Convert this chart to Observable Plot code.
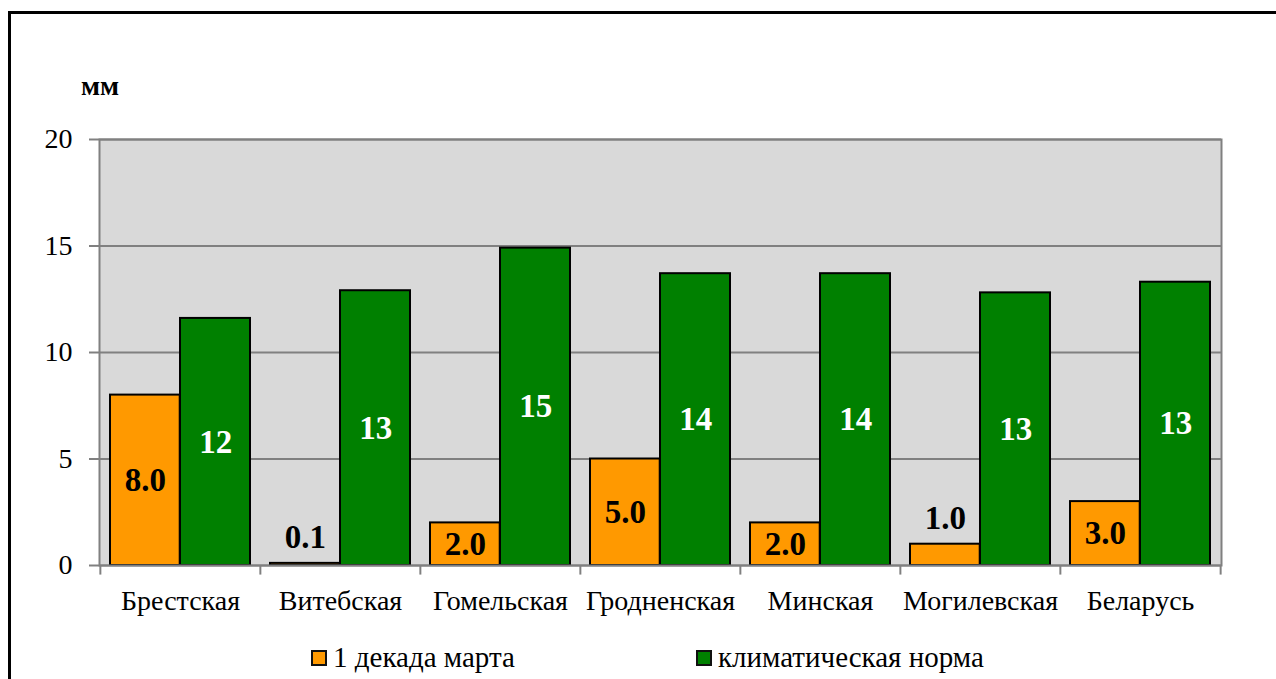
<!DOCTYPE html>
<html><head><meta charset="utf-8">
<script src="https://cdn.jsdelivr.net/npm/d3@7"></script>
<script src="https://cdn.jsdelivr.net/npm/@observablehq/plot@0.6"></script>
<style>
html,body{margin:0;padding:0;background:#fff;}
body{width:1276px;height:679px;overflow:hidden;position:relative;font-family:"Liberation Serif","Times New Roman",serif;color:#000;}
#frame{position:absolute;left:8px;top:11px;width:1300px;height:720px;border:3px solid #000;box-sizing:border-box;}
#chart{position:absolute;left:0;top:0;}
#unit{position:absolute;left:81px;top:72px;font-size:28px;line-height:28px;font-weight:bold;}
.leg{position:absolute;top:643px;font-size:29px;line-height:29px;display:flex;align-items:center;white-space:nowrap;}
.sw{width:12px;height:12px;border:2px solid #111;margin-right:6px;flex:none;}
</style></head>
<body>
<div id="frame"></div>
<div id="chart"></div>
<div id="unit">мм</div>
<div class="leg" id="leg1" style="left:311px"><span class="sw" style="background:#FF9900"></span><span id="t1"></span></div>
<div class="leg" id="leg2" style="left:696px"><span class="sw" style="background:#008000"></span><span id="t2"></span></div>
<script>
const regions = ["Брестская","Витебская","Гомельская","Гродненская","Минская","Могилевская","Беларусь"];
const march = [8.0, 0.1, 2.0, 5.0, 2.0, 1.0, 3.0];
const norm = [11.6, 12.9, 14.9, 13.7, 13.7, 12.8, 13.3];
const seriesNames = ["1 декада марта", "климатическая норма"];
const yTicks = [0, 5, 10, 15, 20];

document.getElementById("t1").textContent = seriesNames[0];
document.getElementById("t2").textContent = seriesNames[1];

const data = regions.map((r, i) => ({region: r, march: march[i], norm: norm[i]}));

const W = 1276, H = 679, ML = 99, MR = 55, MT = 139, MB = 114;
const bw = (W - ML - MR) / regions.length;
const fmt1 = d3.format(".1f"), fmt0 = d3.format(".0f");
const orange = "#FF9900", green = "#008000", grid = "#808080";
const FONT = "'Liberation Serif', 'Times New Roman', serif";

const chart = Plot.plot({
  width: W, height: H,
  marginLeft: ML, marginRight: MR, marginTop: MT, marginBottom: MB,
  x: {domain: regions, padding: 0, label: null},
  y: {domain: [0, 20], label: null},
  style: {fontFamily: FONT, color: "#000", background: "transparent", overflow: "visible"},
  marks: [
    Plot.frame({fill: "#d9d9d9", stroke: grid, strokeWidth: 2}),
    Plot.ruleY(yTicks.filter(d => d > 0), {y: d => d, stroke: grid, strokeWidth: 2}),
    Plot.barY(data, {x: "region", y: "march", fill: orange, stroke: "#000", strokeWidth: 2, insetLeft: 10, insetRight: bw - 80}),
    Plot.barY(data, {x: "region", y: "norm", fill: green, stroke: "#000", strokeWidth: 2, insetLeft: 80, insetRight: 10}),
    Plot.ruleY([0], {stroke: grid, strokeWidth: 2}),
    Plot.ruleX(regions, {x: d => d, dx: -bw / 2, y1: 0, y2: -0.45, stroke: grid, strokeWidth: 2}),
    Plot.ruleX(regions.slice(-1), {x: d => d, dx: bw / 2, y1: 0, y2: -0.45, stroke: grid, strokeWidth: 2}),
    Plot.axisY({ticks: yTicks, tickSize: 10, tickPadding: 17, stroke: grid, strokeWidth: 2, fontSize: 28, tickFormat: d => d}),
    Plot.axisX({tickSize: 0, tickPadding: 25, fontSize: 28}),
    Plot.text(data.filter(d => d.march >= 1.5), {x: "region", y: d => d.march / 2, text: d => fmt1(d.march), dx: -(bw / 2 - 45), fontSize: 33, fontWeight: "bold", fill: "#000"}),
    Plot.text(data.filter(d => d.march < 1.5), {x: "region", y: "march", text: d => fmt1(d.march), dx: -(bw / 2 - 45), dy: -26, fontSize: 33, fontWeight: "bold", fill: "#000"}),
    Plot.text(data, {x: "region", y: d => d.norm / 2, text: d => fmt0(d.norm), dx: bw / 2 - 45, fontSize: 33, fontWeight: "bold", fill: "#fff"})
  ]
});
document.getElementById("chart").appendChild(chart);
</script>
</body></html>
